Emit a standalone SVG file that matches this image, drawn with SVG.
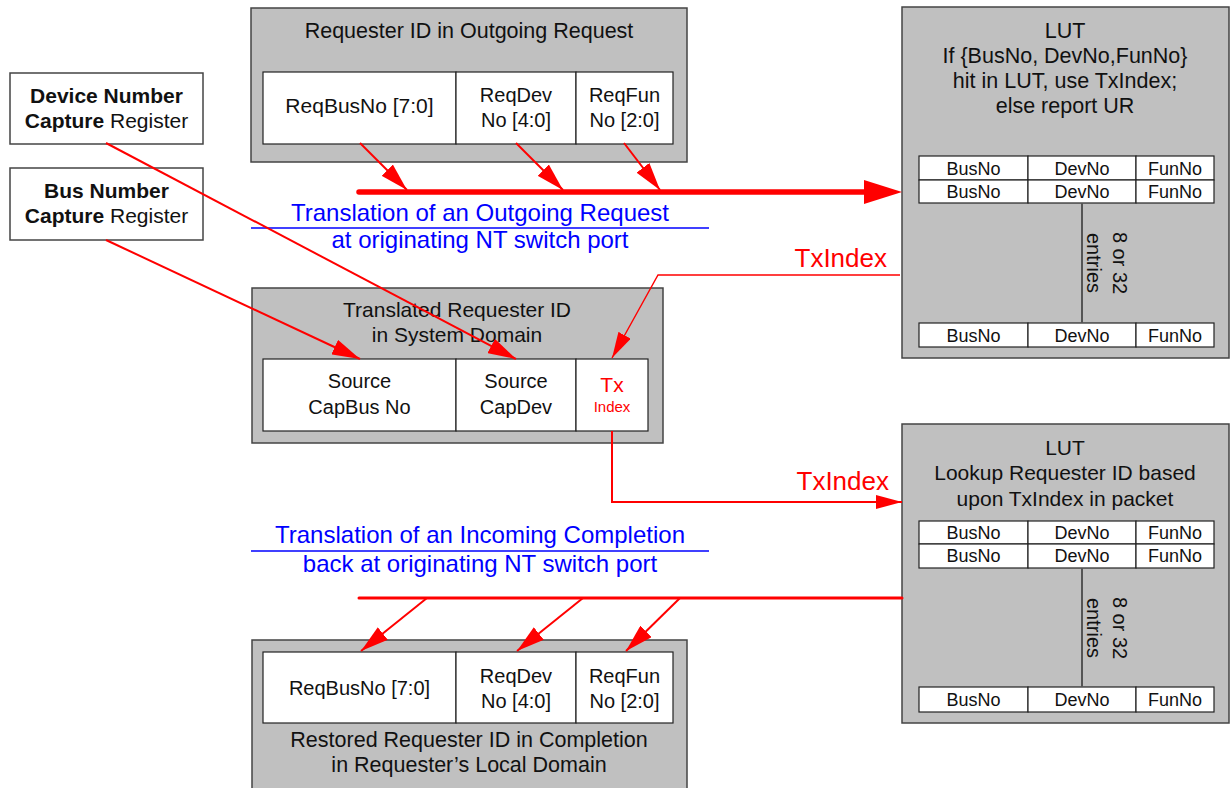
<svg xmlns="http://www.w3.org/2000/svg" width="1230" height="788" viewBox="0 0 1230 788">
<defs>
<style>
text{font-family:"Liberation Sans",Arial,sans-serif;fill:#111;text-anchor:middle}
.outer{fill:#c0c0c0;stroke:#444;stroke-width:1.5}
.cell{fill:#fff;stroke:#222;stroke-width:1.2}
.reg{fill:#fff;stroke:#444;stroke-width:1.5}
.t21{font-size:21px}
.t215{font-size:21.5px}
.t20{font-size:20px}
.t18{font-size:18px}
.b{font-weight:bold}
.blue{fill:#0000ff;font-size:24px}
.red{fill:#ff0000}
.rl{stroke:#ff0000;fill:none}
.ul{stroke:#0000ff;stroke-width:1.4}
.vl{stroke:#555;stroke-width:2}
</style>
<marker id="ah" markerUnits="userSpaceOnUse" markerWidth="28" markerHeight="16" refX="28" refY="8" orient="auto">
<path d="M0,0 L28,8 L0,16 z" fill="#ff0000"/>
</marker>
<marker id="ahs" markerUnits="userSpaceOnUse" markerWidth="26" markerHeight="14" refX="26" refY="7" orient="auto">
<path d="M0,0 L26,7 L0,14 z" fill="#ff0000"/>
</marker>
<marker id="ahb" markerUnits="userSpaceOnUse" markerWidth="38" markerHeight="24" refX="11" refY="12" orient="auto">
<path d="M0,0 L38,12 L0,24 z" fill="#ff0000"/>
</marker>
</defs>

<g id="outgoing-request">
<rect class="outer" x="251" y="8" width="436" height="154"/>
<text class="t215" x="469" y="38">Requester ID in Outgoing Request</text>
<rect class="cell" x="263" y="72" width="193" height="72"/>
<rect class="cell" x="456" y="72" width="120" height="72"/>
<rect class="cell" x="576" y="72" width="97" height="72"/>
<text class="t21" x="359.5" y="113">ReqBusNo [7:0]</text>
<text class="t20" x="516" y="102">ReqDev</text>
<text class="t20" x="516" y="127">No [4:0]</text>
<text class="t20" x="624.5" y="102">ReqFun</text>
<text class="t20" x="624.5" y="127">No [2:0]</text>
</g>

<g id="device-number-register">
<rect class="reg" x="10" y="73" width="193" height="71"/>
<text class="t21" x="106.5" y="103"><tspan class="b">Device Number</tspan></text>
<text class="t21" x="106.5" y="128"><tspan class="b">Capture</tspan> Register</text>
</g>

<g id="bus-number-register">
<rect class="reg" x="10" y="168" width="193" height="72"/>
<text class="t21" x="106.5" y="198"><tspan class="b">Bus Number</tspan></text>
<text class="t21" x="106.5" y="223"><tspan class="b">Capture</tspan> Register</text>
</g>

<g id="lut-top">
<rect class="outer" x="902" y="7" width="327" height="351"/>
<text class="t215" x="1065" y="38">LUT</text>
<text class="t215" x="1065" y="63">If {BusNo, DevNo,FunNo}</text>
<text class="t215" x="1065" y="88">hit in LUT, use TxIndex;</text>
<text class="t215" x="1065" y="113">else report UR</text>
<rect class="cell" x="919" y="156" width="109" height="24"/>
<rect class="cell" x="1028" y="156" width="108" height="24"/>
<rect class="cell" x="1136" y="156" width="78" height="24"/>
<rect class="cell" x="919" y="180" width="109" height="23"/>
<rect class="cell" x="1028" y="180" width="108" height="23"/>
<rect class="cell" x="1136" y="180" width="78" height="23"/>
<rect class="cell" x="919" y="323" width="109" height="24"/>
<rect class="cell" x="1028" y="323" width="108" height="24"/>
<rect class="cell" x="1136" y="323" width="78" height="24"/>
<text class="t18" x="973.5" y="175">BusNo</text>
<text class="t18" x="1082" y="175">DevNo</text>
<text class="t18" x="1175" y="175">FunNo</text>
<text class="t18" x="973.5" y="198">BusNo</text>
<text class="t18" x="1082" y="198">DevNo</text>
<text class="t18" x="1175" y="198">FunNo</text>
<text class="t18" x="973.5" y="342">BusNo</text>
<text class="t18" x="1082" y="342">DevNo</text>
<text class="t18" x="1175" y="342">FunNo</text>
<line class="vl" x1="1082" y1="203" x2="1082" y2="323"/>
<text class="t20" transform="translate(1113,263) rotate(90)">8 or 32</text>
<text class="t20" transform="translate(1087,263) rotate(90)">entries</text>
</g>

<g id="translated-requester">
<rect class="outer" x="252" y="288" width="411" height="155"/>
<text class="t21" x="457" y="317">Translated Requester ID</text>
<text class="t21" x="457" y="342">in System Domain</text>
<rect class="cell" x="263" y="359" width="193" height="72"/>
<rect class="cell" x="456" y="359" width="120" height="72"/>
<rect class="cell" x="576" y="359" width="72" height="72"/>
<text class="t20" x="359.5" y="388">Source</text>
<text class="t20" x="359.5" y="414">CapBus No</text>
<text class="t20" x="516" y="388">Source</text>
<text class="t20" x="516" y="414">CapDev</text>
<text class="red" style="font-size:21px" x="612" y="392">Tx</text>
<text class="red" style="font-size:15px" x="612" y="412">Index</text>
</g>

<g id="lut-bottom">
<rect class="outer" x="902" y="424" width="327" height="299"/>
<text class="t21" x="1065" y="455">LUT</text>
<text class="t21" x="1065" y="480">Lookup Requester ID based</text>
<text class="t21" x="1065" y="506">upon TxIndex in packet</text>
<rect class="cell" x="919" y="521" width="109" height="23"/>
<rect class="cell" x="1028" y="521" width="108" height="23"/>
<rect class="cell" x="1136" y="521" width="78" height="23"/>
<rect class="cell" x="919" y="544" width="109" height="24"/>
<rect class="cell" x="1028" y="544" width="108" height="24"/>
<rect class="cell" x="1136" y="544" width="78" height="24"/>
<rect class="cell" x="919" y="687" width="109" height="25"/>
<rect class="cell" x="1028" y="687" width="108" height="25"/>
<rect class="cell" x="1136" y="687" width="78" height="25"/>
<text class="t18" x="973.5" y="539">BusNo</text>
<text class="t18" x="1082" y="539">DevNo</text>
<text class="t18" x="1175" y="539">FunNo</text>
<text class="t18" x="973.5" y="562">BusNo</text>
<text class="t18" x="1082" y="562">DevNo</text>
<text class="t18" x="1175" y="562">FunNo</text>
<text class="t18" x="973.5" y="706">BusNo</text>
<text class="t18" x="1082" y="706">DevNo</text>
<text class="t18" x="1175" y="706">FunNo</text>
<line class="vl" x1="1082" y1="568" x2="1082" y2="687"/>
<text class="t20" transform="translate(1113,628) rotate(90)">8 or 32</text>
<text class="t20" transform="translate(1087,628) rotate(90)">entries</text>
</g>

<g id="restored-requester">
<rect class="outer" x="252" y="640" width="435" height="150"/>
<rect class="cell" x="263" y="652" width="193" height="71"/>
<rect class="cell" x="456" y="652" width="120" height="71"/>
<rect class="cell" x="576" y="652" width="97" height="71"/>
<text class="t20" x="359.5" y="695">ReqBusNo [7:0]</text>
<text class="t20" x="516" y="683">ReqDev</text>
<text class="t20" x="516" y="708">No [4:0]</text>
<text class="t20" x="624.5" y="683">ReqFun</text>
<text class="t20" x="624.5" y="708">No [2:0]</text>
<text class="t215" x="469" y="747">Restored Requester ID in Completion</text>
<text class="t215" x="469" y="772">in Requester’s Local Domain</text>
</g>

<g id="labels">
<line class="ul" x1="251" y1="228" x2="709" y2="228"/>
<text class="blue" x="480" y="221">Translation of an Outgoing Request</text>
<text class="blue" x="480" y="248">at originating NT switch port</text>
<line class="ul" x1="251" y1="551" x2="709" y2="551"/>
<text class="blue" x="480" y="543">Translation of an Incoming Completion</text>
<text class="blue" x="480" y="572">back at originating NT switch port</text>
<text class="red" style="font-size:26px;text-anchor:end" x="887" y="267">TxIndex</text>
<text class="red" style="font-size:26px;text-anchor:end" x="889" y="490">TxIndex</text>
</g>

<g id="connectors">
<line class="rl" x1="359" y1="192" x2="875" y2="192" stroke-width="5.5" stroke-linecap="round" marker-end="url(#ahb)"/>
<line class="rl" x1="360" y1="143" x2="407" y2="190" stroke-width="2" marker-end="url(#ah)"/>
<line class="rl" x1="516" y1="143" x2="563" y2="190" stroke-width="2" marker-end="url(#ah)"/>
<line class="rl" x1="624" y1="143" x2="660" y2="190" stroke-width="2" marker-end="url(#ah)"/>
<line class="rl" x1="106" y1="143" x2="516" y2="359" stroke-width="2" marker-end="url(#ah)"/>
<line class="rl" x1="106" y1="240" x2="360" y2="359" stroke-width="2" marker-end="url(#ah)"/>
<polyline class="rl" points="900,275 658,275 612,358" stroke-width="1.4" marker-end="url(#ahs)"/>
<polyline class="rl" points="612,431 612,502 902,502" stroke-width="2" marker-end="url(#ahs)"/>
<line class="rl" x1="359" y1="598" x2="902" y2="598" stroke-width="3" stroke-linecap="round"/>
<line class="rl" x1="427" y1="598" x2="361" y2="651" stroke-width="2" marker-end="url(#ah)"/>
<line class="rl" x1="583" y1="598" x2="517" y2="651" stroke-width="2" marker-end="url(#ah)"/>
<line class="rl" x1="680" y1="598" x2="626" y2="651" stroke-width="2" marker-end="url(#ah)"/>
</g>
</svg>
